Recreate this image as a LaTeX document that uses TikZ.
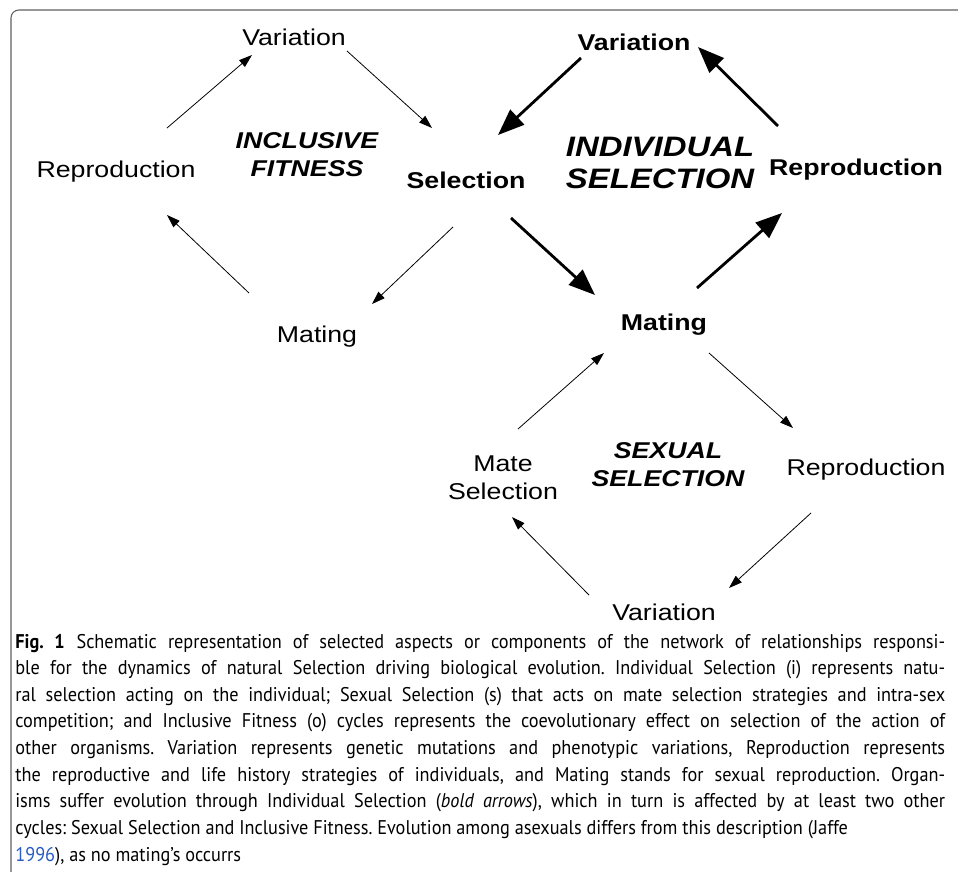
\documentclass[tikz,border=0pt]{standalone}
\usepackage{fontspec}
\setmainfont[FakeStretch=0.92]{PT Sans}
\newfontfamily\labelfont[FakeStretch=1.17]{Liberation Sans}
\usetikzlibrary{arrows.meta,calc}
\definecolor{framegray}{RGB}{96,96,96}
\definecolor{citeblue}{RGB}{40,90,200}
\frenchspacing

\begin{document}
\begin{tikzpicture}[x=0.02cm,y=-0.02cm,
	lbl/.style={font=\labelfont\fontsize{13pt}{15.6pt}\selectfont, inner sep=0pt, anchor=base, align=center},
	boldlbl/.style={font=\labelfont\bfseries\fontsize{13pt}{15.6pt}\selectfont, inner sep=0pt, anchor=base},
	cycle/.style={font=\labelfont\bfseries\itshape\fontsize{13pt}{15.8pt}\selectfont, inner sep=0pt, anchor=base, align=center},
	thinarrow/.style={line width=0.45pt, -{Triangle[length=7.5pt,width=5pt]}},
	boldarrow/.style={line width=1.6pt, -{Triangle[length=15pt,width=11.5pt]}}]
	\useasboundingbox (0,0) rectangle (958,872);
	
	% Frame
	\draw[framegray, line width=0.6pt, rounded corners=4.5pt] (11,10) rectangle (1000,900);
	
	% Inclusive fitness cycle
	\node[lbl] (varL) at (294,46) {Variation};
	\node[lbl] (repL) at (116,177) {Reproduction};
	\node[boldlbl] (sel) at (466,188) {Selection};
	\node[lbl] (matL) at (317,342) {Mating};
	\node[cycle] (incl) at (307,176) {INCLUSIVE\\FITNESS};
	
	% Individual selection cycle
	\node[boldlbl] (varR) at (634,51) {Variation};
	\node[boldlbl] (repR) at (856,175) {Reproduction};
	\node[boldlbl] (matC) at (664,330) {Mating};
	\node[cycle, font=\labelfont\bfseries\itshape\fontsize{16pt}{18.1pt}\selectfont] (indiv) at (660,188) {INDIVIDUAL\\SELECTION};
	
	% Sexual selection cycle
	\node[lbl] (mateS) at (503,499) {Mate\\Selection};
	\node[lbl] (repS) at (866,475) {Reproduction};
	\node[lbl] (varS) at (664,620) {Variation};
	\node[cycle] (sexual) at (668,486) {SEXUAL\\SELECTION};
	
	% Thin arrows
	\draw[thinarrow] ($(repL.base)+(51,-49)$) -- ($(varL.base)+(-42,9)$);
	\draw[thinarrow] ($(varL.base)+(53,5)$) -- ($(sel.base)+(-34,-60)$);
	\draw[thinarrow] ($(sel.base)+(-13,39)$) -- ($(matL.base)+(55,-38)$);
	\draw[thinarrow] ($(matL.base)+(-68,-49)$) -- ($(repL.base)+(51,38)$);
	\draw[thinarrow] ($(mateS.base)+(15,-70)$) -- ($(matC.base)+(-60,23)$);
	\draw[thinarrow] ($(matC.base)+(45,23)$) -- ($(repS.base)+(-73,-47)$);
	\draw[thinarrow] ($(repS.base)+(-55,38)$) -- ($(varS.base)+(65,-32)$);
	\draw[thinarrow] ($(varS.base)+(-75,-25)$) -- ($(mateS.base)+(9,18)$);
	
	% Bold arrows
	\draw[boldarrow] ($(varR.base)+(-53,7)$) -- ($(sel.base)+(32,-53)$);
	\draw[boldarrow] ($(sel.base)+(45,30)$) -- ($(matC.base)+(-69,-35)$);
	\draw[boldarrow] ($(matC.base)+(33,-42)$) -- ($(repR.base)+(-74,38)$);
	\draw[boldarrow] ($(repR.base)+(-78,-49)$) -- ($(varR.base)+(64,-4)$);
	
	% Caption
	\node[anchor=base west, inner sep=0pt, text width=18.6cm, align=justify,
		font=\fontsize{11.3pt}{15.17pt}\selectfont] (caption) at (15,648)
		{\textbf{Fig.~1}\hspace{0.6em}Schematic representation of selected aspects or components of the network of relationships responsi-\linebreak
		ble for the dynamics of natural Selection driving biological evolution. Individual Selection (i) represents natu-\linebreak
		ral selection acting on the individual; Sexual Selection (s) that acts on mate selection strategies and intra-sex\linebreak
		competition; and Inclusive Fitness (o) cycles represents the coevolutionary effect on selection of the action of\linebreak
		other organisms. Variation represents genetic mutations and phenotypic variations, Reproduction represents\linebreak
		the reproductive and life history strategies of individuals, and Mating stands for sexual reproduction. Organ-\linebreak
		isms suffer evolution through Individual Selection (\textit{bold arrows}), which in turn is affected by at least two other\linebreak
		cycles: Sexual Selection and Inclusive Fitness. Evolution among asexuals differs from this description (Jaffe\newline
		\textcolor{citeblue}{1996}), as no mating’s occurrs};
\end{tikzpicture}
\end{document}
